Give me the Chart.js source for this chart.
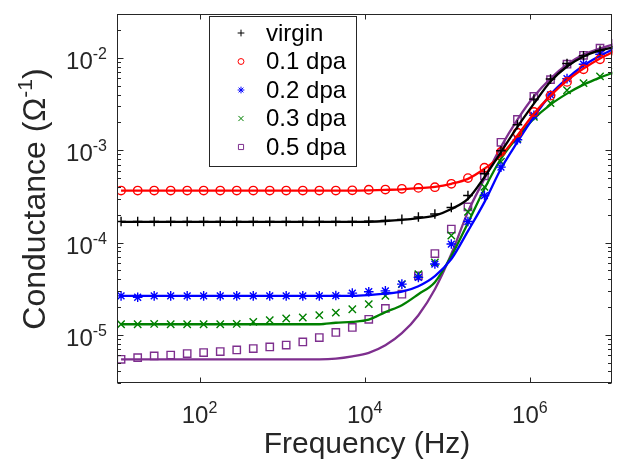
<!DOCTYPE html>
<html>
<head>
<meta charset="utf-8">
<script src="https://cdn.jsdelivr.net/npm/chart.js@4.4.0/dist/chart.umd.min.js"></script>
<style>
  html, body { margin: 0; padding: 0; background: #fff; }
  #wrap { width: 619px; height: 466px; }
</style>
</head>
<body>
<div id="wrap"><canvas id="chart" width="619" height="466"></canvas></div>
<script>
// measurement frequencies (Hz), about 0.2 decade apart
const freq = [11.2, 17.8, 28.2, 44.7, 70.8, 112, 178, 282, 447, 708,
  1120, 1780, 2820, 4470, 7080, 11200, 17800, 28200, 44700, 70800,
  112000, 178000, 282000, 447000, 708000, 1120000, 1780000, 2820000, 4470000, 7080000, 11200000];

const seriesNames = ['virgin', '0.1 dpa', '0.2 dpa', '0.3 dpa', '0.5 dpa'];

// measured conductance (1/ohm)
const virginPts = [1.69e-4, 1.69e-4, 1.69e-4, 1.69e-4, 1.69e-4, 1.69e-4, 1.69e-4, 1.69e-4, 1.69e-4, 1.69e-4,
  1.69e-4, 1.69e-4, 1.69e-4, 1.69e-4, 1.69e-4, 1.70e-4, 1.73e-4, 1.78e-4, 1.89e-4, 2.04e-4,
  2.40e-4, 3.23e-4, 5.56e-4, 9.89e-4, 1.89e-3, 3.58e-3, 5.92e-3, 8.71e-3, 1.06e-2, 1.21e-2, 1.33e-2];
const dpa01Pts = [3.66e-4, 3.66e-4, 3.66e-4, 3.66e-4, 3.66e-4, 3.66e-4, 3.66e-4, 3.66e-4, 3.66e-4, 3.66e-4,
  3.66e-4, 3.66e-4, 3.66e-4, 3.66e-4, 3.68e-4, 3.73e-4, 3.75e-4, 3.82e-4, 3.91e-4, 3.98e-4,
  4.33e-4, 4.99e-4, 6.46e-4, 9.60e-4, 1.55e-3, 2.60e-3, 3.91e-3, 5.51e-3, 7.55e-3, 9.70e-3, 1.15e-2];
const dpa02Pts = [2.64e-5, 2.55e-5, 2.64e-5, 2.64e-5, 2.64e-5, 2.64e-5, 2.64e-5, 2.64e-5, 2.64e-5, 2.64e-5,
  2.64e-5, 2.64e-5, 2.64e-5, 2.66e-5, 2.83e-5, 2.93e-5, 2.99e-5, 3.54e-5, 4.19e-5, 5.84e-5,
  9.63e-5, 1.69e-4, 3.23e-4, 6.56e-4, 1.30e-3, 2.39e-3, 3.98e-3, 5.98e-3, 8.57e-3, 1.10e-2, 1.27e-2];
const dpa03Pts = [1.30e-5, 1.30e-5, 1.31e-5, 1.30e-5, 1.30e-5, 1.30e-5, 1.30e-5, 1.31e-5, 1.38e-5, 1.44e-5,
  1.50e-5, 1.54e-5, 1.63e-5, 1.74e-5, 1.89e-5, 2.15e-5, 2.64e-5, 3.54e-5, 4.55e-5, 6.10e-5,
  1.19e-4, 2.15e-4, 4.01e-4, 7.50e-4, 1.33e-3, 2.30e-3, 3.24e-3, 4.47e-3, 5.35e-3, 6.32e-3, 7.13e-3];
const dpa05Pts = [5.42e-6, 5.65e-6, 5.89e-6, 6.03e-6, 6.25e-6, 6.41e-6, 6.57e-6, 6.84e-6, 7.08e-6, 7.37e-6,
  7.74e-6, 8.35e-6, 9.33e-6, 1.06e-5, 1.20e-5, 1.47e-5, 1.93e-5, 2.75e-5, 4.36e-5, 7.59e-5,
  1.40e-4, 2.43e-4, 5.28e-4, 1.22e-3, 2.16e-3, 3.84e-3, 5.83e-3, 8.57e-3, 1.07e-2, 1.28e-2, 1.44e-2];

// fitted curves read at the same frequencies
const virginFit = [1.67e-4, 1.67e-4, 1.67e-4, 1.67e-4, 1.67e-4, 1.67e-4, 1.67e-4, 1.67e-4, 1.67e-4, 1.67e-4,
  1.67e-4, 1.67e-4, 1.67e-4, 1.67e-4, 1.67e-4, 1.68e-4, 1.71e-4, 1.76e-4, 1.84e-4, 1.96e-4,
  2.31e-4, 2.97e-4, 5.12e-4, 9.55e-4, 1.79e-3, 3.20e-3, 5.56e-3, 8.09e-3, 1.04e-2, 1.21e-2, 1.33e-2];
const dpa01Fit = [3.66e-4, 3.66e-4, 3.66e-4, 3.66e-4, 3.66e-4, 3.66e-4, 3.66e-4, 3.66e-4, 3.66e-4, 3.66e-4,
  3.66e-4, 3.66e-4, 3.66e-4, 3.66e-4, 3.66e-4, 3.68e-4, 3.72e-4, 3.77e-4, 3.88e-4, 4.01e-4,
  4.33e-4, 4.90e-4, 6.30e-4, 8.77e-4, 1.45e-3, 2.49e-3, 3.91e-3, 5.69e-3, 7.69e-3, 9.88e-3, 1.21e-2];
const dpa02Fit = [2.64e-5, 2.64e-5, 2.64e-5, 2.64e-5, 2.64e-5, 2.64e-5, 2.64e-5, 2.64e-5, 2.64e-5, 2.64e-5,
  2.64e-5, 2.64e-5, 2.64e-5, 2.64e-5, 2.64e-5, 2.69e-5, 2.79e-5, 2.93e-5, 3.36e-5, 4.32e-5,
  6.62e-5, 1.33e-4, 2.74e-4, 6.30e-4, 1.23e-3, 2.30e-3, 4.01e-3, 5.98e-3, 8.29e-3, 1.06e-2, 1.30e-2];
const dpa03Fit = [1.30e-5, 1.30e-5, 1.30e-5, 1.30e-5, 1.30e-5, 1.30e-5, 1.30e-5, 1.30e-5, 1.30e-5, 1.30e-5,
  1.30e-5, 1.30e-5, 1.30e-5, 1.35e-5, 1.38e-5, 1.46e-5, 1.76e-5, 2.09e-5, 2.75e-5, 3.72e-5,
  7.13e-5, 1.63e-4, 3.82e-4, 8.09e-4, 1.39e-3, 2.20e-3, 3.13e-3, 4.11e-3, 5.15e-3, 6.14e-3, 7.13e-3];
const dpa05Fit = [5.42e-6, 5.42e-6, 5.42e-6, 5.42e-6, 5.42e-6, 5.42e-6, 5.42e-6, 5.42e-6, 5.42e-6, 5.42e-6,
  5.42e-6, 5.42e-6, 5.42e-6, 5.51e-6, 5.83e-6, 6.37e-6, 7.69e-6, 1.04e-5, 1.63e-5, 3.12e-5,
  7.50e-5, 2.15e-4, 4.90e-4, 1.09e-3, 2.15e-3, 3.82e-3, 5.98e-3, 8.50e-3, 1.09e-2, 1.27e-2, 1.44e-2];

const xTickVals = [1e2, 1e4, 1e6];
const xTickExp = ['2', '4', '6'];
const yTickVals = [1e-5, 1e-4, 1e-3, 1e-2];
const yTickExp = ['-5', '-4', '-3', '-2'];

const FONT = '"Liberation Sans", Arial, Helvetica, sans-serif';

const series = [
  { name: seriesNames[0], pts: virginPts, fit: virginFit, color: '#000000', style: 'cross', r: 4.8 },
  { name: seriesNames[1], pts: dpa01Pts, fit: dpa01Fit, color: '#ff0000', style: 'circle', r: 4.2 },
  { name: seriesNames[2], pts: dpa02Pts, fit: dpa02Fit, color: '#0000ff', style: 'star', r: 4.8 },
  { name: seriesNames[3], pts: dpa03Pts, fit: dpa03Fit, color: '#008000', style: 'crossRot', r: 5.2 },
  { name: seriesNames[4], pts: dpa05Pts, fit: dpa05Fit, color: '#7e2f8e', style: 'rect', r: 5.2 }
];

const datasets = [];
series.forEach(s => {
  datasets.push({
    label: s.name + ' fit',
    data: freq.map((f, i) => ({ x: f, y: s.fit[i] })),
    showLine: true,
    borderColor: s.color,
    borderWidth: 2.3,
    pointRadius: 0,
    cubicInterpolationMode: 'monotone',
    fill: false
  });
  datasets.push({
    label: s.name,
    data: freq.map((f, i) => ({ x: f, y: s.pts[i] })),
    showLine: false,
    pointStyle: s.style,
    pointRadius: s.r,
    pointBorderColor: s.color,
    pointBackgroundColor: 'rgba(0,0,0,0)',
    pointBorderWidth: 1.4,
    isMarker: true
  });
});

function drawPow(ctx, exp, x, y, align) {
  const base = '24px ' + FONT, sup = '16px ' + FONT;
  ctx.font = base;
  const bw = ctx.measureText('10').width;
  ctx.font = sup;
  const ew = ctx.measureText(exp).width;
  const left = align === 'right' ? x - bw - ew : x - (bw + ew) / 2;
  ctx.textAlign = 'left';
  ctx.textBaseline = 'alphabetic';
  ctx.font = base;
  ctx.fillText('10', left, y);
  ctx.font = sup;
  ctx.fillText(exp, left + bw, y - 10);
}

const matlabAxes = {
  id: 'matlabAxes',
  afterDatasetsDraw(chart) {
    const { ctx, chartArea: a, scales: { x, y } } = chart;
    ctx.save();
    ctx.strokeStyle = '#262626';
    ctx.fillStyle = '#262626';
    ctx.lineWidth = 1;
    const L = Math.round(a.left) + 0.5, R = Math.round(a.right) - 0.5;
    const T = Math.round(a.top) + 0.5, B = Math.round(a.bottom) - 0.5;
    ctx.strokeRect(L, T, R - L, B - T);

    ctx.beginPath();
    xTickVals.forEach(v => {
      const px = Math.round(x.getPixelForValue(v)) + 0.5;
      ctx.moveTo(px, B); ctx.lineTo(px, B - 5);
      ctx.moveTo(px, T); ctx.lineTo(px, T + 5);
    });
    for (let d = -6; d <= -2; d++) {
      for (let m = 1; m <= 9; m++) {
        const v = m * Math.pow(10, d);
        if (v < y.min || v > y.max) continue;
        const py = Math.round(y.getPixelForValue(v)) + 0.5;
        const len = m === 1 ? 6 : 3.5;
        ctx.moveTo(L, py); ctx.lineTo(L + len, py);
        ctx.moveTo(R, py); ctx.lineTo(R - len, py);
      }
    }
    ctx.stroke();

    xTickVals.forEach((v, i) => drawPow(ctx, xTickExp[i], x.getPixelForValue(v), 423, 'center'));
    yTickVals.forEach((v, i) => drawPow(ctx, yTickExp[i], 107, y.getPixelForValue(v) + 11, 'right'));

    // axis titles
    ctx.textBaseline = 'alphabetic';
    ctx.textAlign = 'center';
    ctx.font = '30px ' + FONT;
    ctx.fillText('Frequency (Hz)', 367, 453);

    ctx.save();
    ctx.translate(45, 199);
    ctx.rotate(-Math.PI / 2);
    const big = '32px ' + FONT, small = '21px ' + FONT;
    const p1 = 'Conductance (\u03A9', p2 = '-1', p3 = ')';
    ctx.font = big; const w1 = ctx.measureText(p1).width, w3 = ctx.measureText(p3).width;
    ctx.font = small; const w2 = ctx.measureText(p2).width;
    let sx = -(w1 + w2 + w3) / 2;
    ctx.textAlign = 'left';
    ctx.font = big; ctx.fillText(p1, sx, 0); sx += w1;
    ctx.font = small; ctx.fillText(p2, sx, -13); sx += w2;
    ctx.font = big; ctx.fillText(p3, sx, 0);
    ctx.restore();

    // legend
    ctx.fillStyle = '#ffffff';
    ctx.fillRect(209.5, 16.5, 147, 150);
    ctx.strokeStyle = '#262626';
    ctx.strokeRect(209.5, 16.5, 147, 150);
    const markers = chart.data.datasets.filter(d => d.isMarker);
    markers.forEach((d, i) => {
      const ry = 33 + i * 28.5;
      ctx.strokeStyle = d.pointBorderColor;
      ctx.fillStyle = 'rgba(0,0,0,0)';
      Chart.helpers.drawPoint(ctx, { pointStyle: d.pointStyle, radius: d.pointRadius * 0.7, borderWidth: 1.2, rotation: 0 }, 241, ry);
      ctx.fillStyle = '#000000';
      ctx.font = '24px ' + FONT;
      ctx.textAlign = 'left';
      ctx.textBaseline = 'middle';
      ctx.fillText(d.label, 266, ry + 1);
    });
    ctx.restore();
  }
};

new Chart(document.getElementById('chart'), {
  type: 'scatter',
  data: { datasets },
  options: {
    responsive: false,
    animation: false,
    layout: { padding: { left: 117, right: 1, top: 14, bottom: 83 } },
    plugins: { legend: { display: false }, tooltip: { enabled: false } },
    scales: {
      x: { type: 'logarithmic', min: 10, max: 1e7, display: false },
      y: { type: 'logarithmic', min: 3e-6, max: 3e-2, display: false }
    }
  },
  plugins: [matlabAxes]
});
</script>
</body>
</html>
